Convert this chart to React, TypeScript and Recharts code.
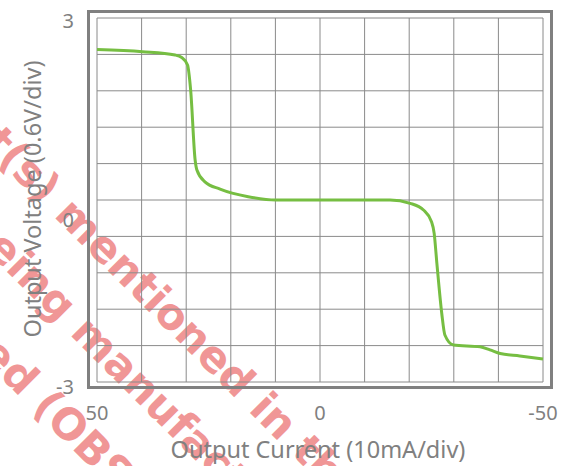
import { CartesianGrid, Label, Line, LineChart, XAxis, YAxis } from "recharts";

// output current (mA), axis runs 50 -> -50 left to right
const currentMA = [50, 39.8, 32.5, 31, 29.7, 29, 28, 27.6, 25.8, 22.4, 16.1, 9.9, 0, -10, -15.7, -20.2, -23.2, -25, -25.6, -26.2, -27.3, -28, -29.9, -35.9, -38.1, -40.4, -44.8, -50];
const outputV = [2.48, 2.445, 2.39, 2.35, 2.225, 1.81, 0.66, 0.495, 0.3, 0.18, 0.055, 0, 0, 0, 0, -0.055, -0.165, -0.357, -0.55, -1.04, -1.87, -2.225, -2.39, -2.42, -2.47, -2.53, -2.57, -2.62];

const xTicks = [50, 40, 30, 20, 10, 0, -10, -20, -30, -40, -50];
const yTicks = [-3, -2.4, -1.8, -1.2, -0.6, 0, 0.6, 1.2, 1.8, 2.4, 3];
const xLabels = [50, 0, -50];
const yLabels = [3, 0, -3];
const yLabelShift: Record<string, number> = { "3": 3, "0": 20, "-3": 5 };

const data = currentMA.map((c, i) => ({ c, v: outputV[i] }));

const GRAY = "#808080";
const FONT = "'Noto Sans', sans-serif";

function XTick({ x, payload }: any) {
  if (!xLabels.includes(payload.value)) return null;
  return (
    <text x={x} y={413} dy="0.355em" textAnchor="middle" fill={GRAY} fontSize={20} fontFamily={FONT}>
      {payload.value}
    </text>
  );
}

function YTick({ y, payload }: any) {
  if (!yLabels.includes(payload.value)) return null;
  return (
    <text x={74} y={y + (yLabelShift[String(payload.value)] ?? 0)} dy="0.355em" textAnchor="end" fill={GRAY} fontSize={20} fontFamily={FONT}>
      {payload.value}
    </text>
  );
}

function Watermark() {
  const fill = "#F09696";
  const style = { fontFamily: "'DejaVu Sans', sans-serif", fontWeight: 700, fontSize: 43 } as const;
  const rows = [
    { x: 53, y: 216, before: "The product(s) ", after: "mentioned in this document" },
    { x: 69, y: 334, before: "are no longer being ", after: "manufactured" },
    { x: 31, y: 408, before: "have been discontinued ", after: "(OBSOLETE)" },
  ];
  return (
    <svg width={567} height={466} style={{ position: "absolute", left: 0, top: 0 }}>
      {rows.map((r) => (
        <g key={r.after} transform={`rotate(45 ${r.x} ${r.y})`} fill={fill} style={style}>
          <text x={r.x} y={r.y} textAnchor="end" xmlSpace="preserve">{r.before}</text>
          <text x={r.x} y={r.y}>{r.after}</text>
        </g>
      ))}
    </svg>
  );
}

export default function App() {
  return (
    <div style={{ position: "absolute", left: 0, top: 0, width: 567, height: 466, background: "#fff" }}>
      <Watermark />
      <div style={{ position: "absolute", left: 87, top: 10, width: 460, height: 373, border: `3px solid ${GRAY}` }} />
      <div style={{ position: "absolute", left: 0, top: 0 }}>
        <LineChart width={567} height={466} data={data} margin={{ top: 18, right: 24, left: 0, bottom: 0 }}>
          <CartesianGrid stroke="#8a8a8a" strokeWidth={1} />
          <XAxis
            dataKey="c"
            type="number"
            domain={[-50, 50]}
            reversed
            ticks={xTicks}
            interval={0}
            height={84}
            axisLine={false}
            tickLine={false}
            tick={<XTick />}
          >
            <Label
              content={({ viewBox }: any) => (
                <text x={viewBox.x + viewBox.width / 2 - 2} y={458} textAnchor="middle" fill={GRAY} fontSize={23.5} fontFamily={FONT}>
                  Output Current (10mA/div)
                </text>
              )}
            />
          </XAxis>
          <YAxis
            type="number"
            domain={[-3, 3]}
            ticks={yTicks}
            interval={0}
            width={97}
            axisLine={false}
            tickLine={false}
            tick={<YTick />}
          >
            <Label
              content={() => (
                <text x={33} y={199} transform="rotate(-90 33 199)" textAnchor="middle" dy="0.355em" fill={GRAY} fontSize={23.5} fontFamily={FONT}>
                  Output Voltage (0.6V/div)
                </text>
              )}
            />
          </YAxis>
          <Line type="monotone" dataKey="v" stroke="#76BE42" strokeWidth={3} dot={false} isAnimationActive={false} />
        </LineChart>
      </div>
    </div>
  );
}
